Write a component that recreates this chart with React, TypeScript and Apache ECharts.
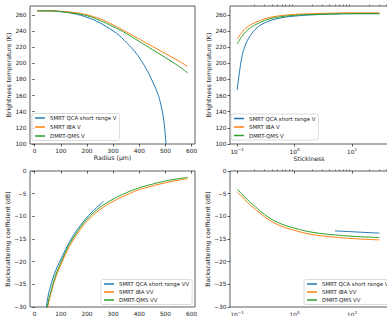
import React, { useEffect, useRef } from "react";
import * as echarts from "echarts";

// Brightness temperature vs radius (µm)
const radiusQca = [10, 50, 100, 150, 200, 250, 300, 325, 350, 375, 400, 425, 450, 470, 480, 490, 497, 502];
const tbRadiusQca = [265, 265, 264, 261.5, 257, 250, 240, 234, 226, 217.5, 207, 194, 178, 163, 152, 137, 120, 100];
const radius = [10, 50, 100, 150, 200, 250, 300, 350, 400, 450, 500, 550, 585];
const tbRadiusIba = [265, 265, 264.5, 263, 260, 255, 247.5, 239, 230, 221, 212, 203, 196];
const tbRadiusDmrt = [265, 265, 264, 262, 259, 253, 245.5, 237, 227, 217, 207, 196.5, 188];

// Brightness temperature vs stickiness
const stickQca = [0.1, 0.11, 0.12, 0.13, 0.15, 0.18, 0.2, 0.25, 0.3, 0.4, 0.6, 1, 2, 5, 10, 30];
const tbStickQca = [167, 190, 207, 217, 228, 237, 241, 247, 250, 253.5, 256.5, 258.5, 260, 261, 261.5, 261.5];
const stick = [0.1, 0.12, 0.15, 0.2, 0.3, 0.5, 1, 2, 5, 10, 20, 30];
const tbStickIba = [230, 238, 245, 250, 255, 258.5, 260.5, 261.5, 262.2, 262.5, 262.5, 262.5];
const tbStickDmrt = [224, 233, 241, 247, 253, 257, 259.5, 260.5, 261.2, 261.5, 261.5, 261.5];

// Backscattering coefficient (dB) vs radius
const radiusBsQca = [40, 50, 60, 80, 100, 125, 150, 175, 200, 225, 250, 263];
const bsRadiusQca = [-32, -28, -25.5, -22, -19.5, -16.5, -14, -12, -10.2, -8.7, -7.4, -6.7];
const radiusBs = [45, 50, 60, 80, 100, 125, 150, 175, 200, 250, 300, 350, 400, 450, 500, 550, 585];
const bsRadiusIba = [-32, -30, -27.5, -23.5, -20.7, -17.5, -15, -12.9, -11.1, -8.5, -6.7, -5.3, -4.1, -3.3, -2.6, -2.0, -1.7];
const bsRadiusDmrt = [-31, -29.3, -27, -23, -20.2, -17, -14.5, -12.4, -10.6, -8.0, -6.2, -4.8, -3.7, -2.9, -2.2, -1.7, -1.4];

// Backscattering coefficient (dB) vs stickiness
const stickBsQca = [5, 10, 20, 30];
const bsStickQca = [-13.2, -13.4, -13.6, -13.7];
const stickBs = [0.1, 0.12, 0.15, 0.2, 0.3, 0.5, 1, 2, 5, 10, 20, 30];
const bsStickIba = [-4.6, -5.6, -6.9, -8.3, -10.1, -11.8, -13.1, -14.0, -14.6, -14.9, -15.1, -15.2];
const bsStickDmrt = [-4.0, -5.0, -6.3, -7.7, -9.6, -11.3, -12.6, -13.5, -14.1, -14.4, -14.6, -14.7];

// Tick positions
const radiusTicks = [0, 100, 200, 300, 400, 500, 600];
const tbTicks = [100, 120, 140, 160, 180, 200, 220, 240, 260];
const bsTicks = [-30, -25, -20, -15, -10, -5, 0];
const logMajor = [0.1, 1, 10];
const logMinor = [0.2, 0.3, 0.4, 0.5, 0.6, 0.7, 0.8, 0.9, 2, 3, 4, 5, 6, 7, 8, 9, 20, 30, 40];

const namesV = ["SMRT QCA short range V", "SMRT IBA V", "DMRT-QMS V"];
const namesVV = ["SMRT QCA short range VV", "SMRT IBA VV", "DMRT-QMS VV"];
const colors = ["#1f77b4", "#ff7f0e", "#2ca02c"];

const FONT = "DejaVu Sans";
const LINE = "#333333";
const TEXT = "#222222";
const TICK_FS = 5.8;
const NAME_FS = 6.2;

const pairs = (xs: number[], ys: number[]) => xs.map((x, i) => [x, ys[i]]);
const minus = (v: number) => (v < 0 ? "\u2212" + String(-v) : String(v));

const LOG_MIN = Math.pow(10, -1.125);
const LOG_MAX = Math.pow(10, 1.625);

function linearX(gridIndex: number, name: string, nameGap: number) {
  return {
    type: "value",
    gridIndex,
    min: -18,
    max: 613,
    name,
    nameLocation: "middle",
    nameGap,
    nameTextStyle: { fontFamily: FONT, fontSize: NAME_FS, color: TEXT },
    axisLine: { show: false },
    splitLine: { show: false },
    axisTick: { show: true, length: 2.5, customValues: radiusTicks, lineStyle: { color: LINE, width: 0.8 } },
    axisLabel: {
      customValues: radiusTicks,
      margin: 3.5,
      fontFamily: FONT,
      fontSize: TICK_FS,
      color: TEXT,
    },
  };
}

function logX(gridIndex: number, name: string, nameGap: number) {
  return {
    type: "log",
    logBase: 10,
    gridIndex,
    min: LOG_MIN,
    max: LOG_MAX,
    name,
    nameLocation: "middle",
    nameGap,
    nameTextStyle: { fontFamily: FONT, fontSize: NAME_FS, color: TEXT },
    axisLine: { show: false },
    splitLine: { show: false },
    minorTick: { show: false },
    axisTick: { show: true, length: 2.5, customValues: logMajor, lineStyle: { color: LINE, width: 0.8 } },
    axisLabel: {
      customValues: logMajor,
      margin: 3,
      formatter: (v: number) => {
        const e = Math.round(Math.log10(v));
        return `{b|10}{s|${minus(e)}}`;
      },
      rich: {
        b: { fontFamily: FONT, fontSize: TICK_FS, color: TEXT, lineHeight: 8, verticalAlign: "bottom" },
        s: { fontFamily: FONT, fontSize: 4.2, color: TEXT, lineHeight: 8, verticalAlign: "top" },
      },
    },
  };
}

function minorLogX(gridIndex: number) {
  return {
    type: "log",
    logBase: 10,
    gridIndex,
    min: LOG_MIN,
    max: LOG_MAX,
    axisLine: { show: false },
    splitLine: { show: false },
    axisLabel: { show: false },
    axisTick: { show: true, length: 1.5, customValues: logMinor, lineStyle: { color: LINE, width: 0.6 } },
  };
}

function yAxis(gridIndex: number, name: string, min: number, max: number, ticks: number[], fmt?: (v: number) => string) {
  return {
    type: "value",
    gridIndex,
    min,
    max,
    name,
    nameLocation: "middle",
    nameGap: 19,
    nameTextStyle: { fontFamily: FONT, fontSize: NAME_FS, color: TEXT },
    axisLine: { show: false },
    splitLine: { show: false },
    axisTick: { show: true, length: 2.5, customValues: ticks, lineStyle: { color: LINE, width: 0.8 } },
    axisLabel: {
      customValues: ticks,
      margin: 3.5,
      fontFamily: FONT,
      fontSize: TICK_FS,
      color: TEXT,
      formatter: fmt,
    },
  };
}

function line(name: string, color: string, data: number[][], xi: number, yi: number, z: number) {
  return {
    type: "line",
    name,
    xAxisIndex: xi,
    yAxisIndex: yi,
    data,
    symbol: "none",
    smooth: 0.4,
    clip: true,
    z,
    color,
    lineStyle: { color, width: 1 },
    itemStyle: { color },
  };
}

function legend(data: string[], left: number, top: number, itemGap: number) {
  return {
    data,
    left,
    top,
    orient: "vertical",
    icon: "rect",
    itemWidth: 10,
    itemHeight: 1.5,
    itemGap,
    padding: [1.5, 3, 1.5, 3],
    borderColor: "#d3d3d3",
    borderWidth: 0.8,
    borderRadius: 2,
    backgroundColor: "rgba(255,255,255,0.8)",
    selectedMode: false,
    textStyle: { fontFamily: FONT, fontSize: 5.4, color: TEXT, lineHeight: 6 },
  };
}

const gridStyle = {
  show: true,
  borderColor: LINE,
  borderWidth: 0.8,
  backgroundColor: "transparent",
  containLabel: false,
  outerBoundsMode: "none",
};

export default function App() {
  const ref = useRef<HTMLDivElement>(null);

  useEffect(() => {
    if (!ref.current) return;
    const chart = echarts.init(ref.current, undefined, { renderer: "svg" });
    chart.setOption({
      animation: false,
      backgroundColor: "#ffffff",
      grid: [
        { ...gridStyle, left: 30, top: 6, width: 165, height: 138 },
        { ...gridStyle, left: 230, top: 6, width: 158, height: 138 },
        { ...gridStyle, left: 30, top: 171, width: 165, height: 136 },
        { ...gridStyle, left: 230, top: 171, width: 158, height: 136 },
      ],
      xAxis: [
        linearX(0, "Radius (\u03bcm)", 10),
        logX(1, "Stickiness", 11),
        linearX(2, "Radius (\u03bcm)", 14),
        logX(3, "Stickiness", 15),
        minorLogX(1),
        minorLogX(3),
      ],
      yAxis: [
        yAxis(0, "Brightness temperature (K)", 100, 271, tbTicks),
        yAxis(1, "Brightness temperature (K)", 100, 271, tbTicks),
        yAxis(2, "Backscattering coefficient (dB)", -30, 0, bsTicks, minus),
        yAxis(3, "Backscattering coefficient (dB)", -30, 0, bsTicks, minus),
      ],
      legend: [
        legend(namesV, 32, 113.5, 3),
        legend(namesV, 231, 114, 2.5),
        legend(namesVV, 101, 279.5, 2),
        legend(namesVV, 304, 279.5, 2),
      ],
      series: [
        line(namesV[0], colors[0], pairs(radiusQca, tbRadiusQca), 0, 0, 2),
        line(namesV[1], colors[1], pairs(radius, tbRadiusIba), 0, 0, 3),
        line(namesV[2], colors[2], pairs(radius, tbRadiusDmrt), 0, 0, 4),
        line(namesV[0], colors[0], pairs(stickQca, tbStickQca), 1, 1, 2),
        line(namesV[1], colors[1], pairs(stick, tbStickIba), 1, 1, 3),
        line(namesV[2], colors[2], pairs(stick, tbStickDmrt), 1, 1, 4),
        line(namesVV[0], colors[0], pairs(radiusBsQca, bsRadiusQca), 2, 2, 2),
        line(namesVV[1], colors[1], pairs(radiusBs, bsRadiusIba), 2, 2, 3),
        line(namesVV[2], colors[2], pairs(radiusBs, bsRadiusDmrt), 2, 2, 4),
        line(namesVV[0], colors[0], pairs(stickBsQca, bsStickQca), 3, 3, 2),
        line(namesVV[1], colors[1], pairs(stickBs, bsStickIba), 3, 3, 3),
        line(namesVV[2], colors[2], pairs(stickBs, bsStickDmrt), 3, 3, 4),
      ],
    });
    return () => chart.dispose();
  }, []);

  return (
    <div style={{ position: "fixed", left: 0, top: 0, width: 387, height: 316, overflow: "hidden", background: "#fff" }}>
      <div ref={ref} style={{ width: 400, height: 316 }} />
    </div>
  );
}
